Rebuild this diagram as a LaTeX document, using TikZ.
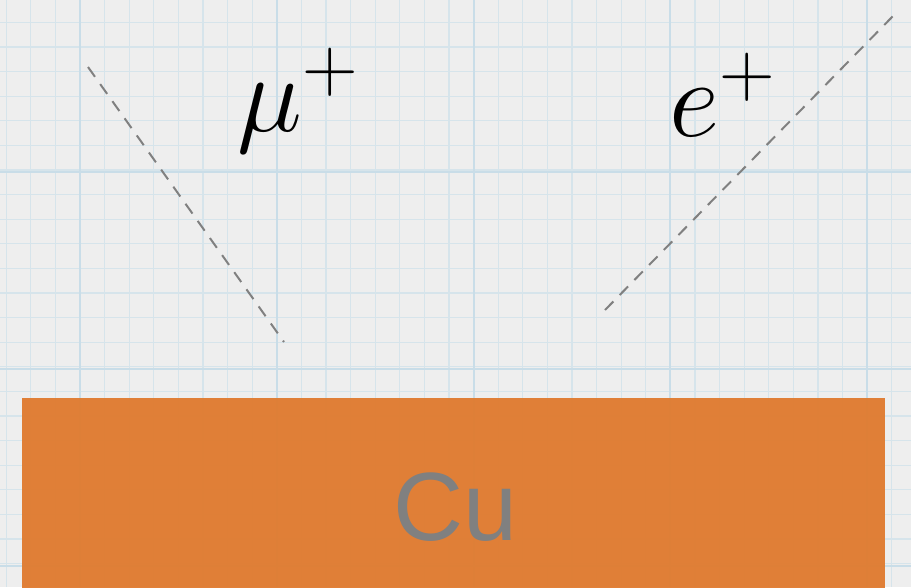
\documentclass[tikz,border=0pt]{standalone}
\usepackage{fix-cm}
\usepackage{fontspec}
\newfontfamily\cufont{Liberation Sans}
\definecolor{paper}{HTML}{EEEEEE}
\definecolor{gridminor}{HTML}{D6E4EB}
\definecolor{gridmajor}{HTML}{C9DDE8}
\definecolor{copper}{HTML}{E07A2E}
\definecolor{dashgray}{HTML}{808080}
\tikzset{
  track/.style={draw=dashgray, line width=2pt, dash pattern=on 12pt off 9pt},
  particle/.style={inner sep=0pt, font=\fontsize{110}{115}\selectfont},
}
\begin{document}
\begin{tikzpicture}[x=1pt,y=-1pt]
\useasboundingbox (0,0) rectangle (911,587);
\fill[paper] (0,0) rectangle (911,587);
% minor grid
\foreach \i in {0,...,37} {
  \draw[gridminor, line width=1.2pt] ({6.2+24.6*\i},0) -- ({6.2+24.6*\i},587);
}
\foreach \j in {0,...,24} {
  \draw[gridminor, line width=1.2pt] (0,{-2.2+24.6*\j}) -- (911,{-2.2+24.6*\j});
}
% major grid
\foreach \i in {0,...,4} {
  \draw[gridmajor, line width=2pt] ({80+196.8*\i},0) -- ({80+196.8*\i},587);
}
\foreach \j in {0,...,2} {
  \draw[gridmajor, line width=2pt] (0,{172+196.8*\j}) -- (911,{172+196.8*\j});
}
% copper block
\fill[copper, fill opacity=0.95] (22,398) rectangle (885,590);
\node[inner sep=0pt, text=dashgray, font=\cufont\fontsize{97}{100}\selectfont] (cu) at (455,507) {Cu};
% labels
\node[particle, anchor=base west] (mu) at (237,131) {$\mu^+$};
\node[particle, anchor=base west] (ep) at (669,136) {$e^+$};
% tracks
\coordinate (mustart) at (88,67);
\coordinate (muend) at (284,342);
\coordinate (estart) at (605,310);
\coordinate (eend) at (895,14);
\draw[track] (mustart) -- (muend);
\draw[track] (estart) -- (eend);
\end{tikzpicture}
\end{document}
